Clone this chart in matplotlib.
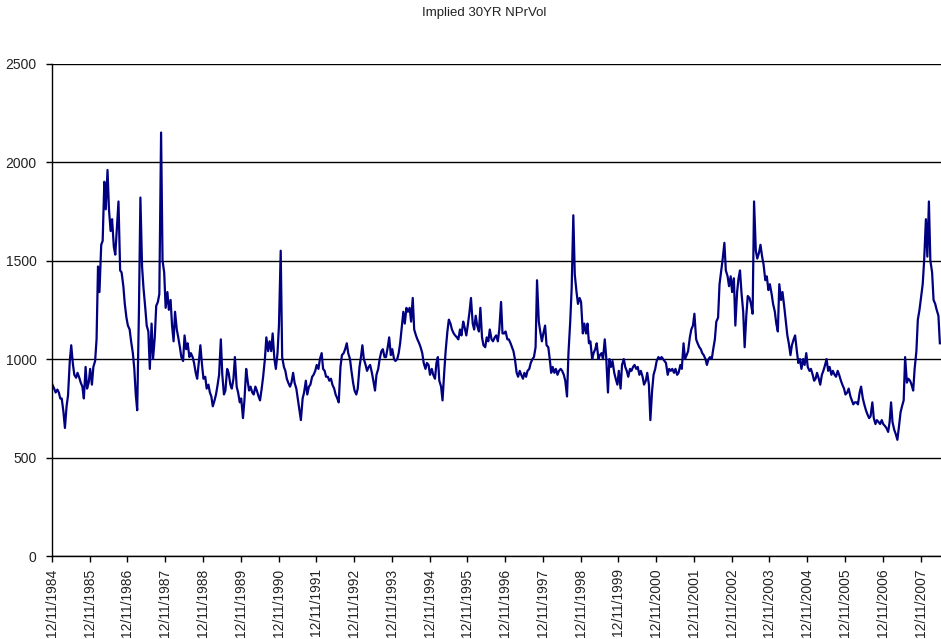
import numpy as np
import pandas as pd
import matplotlib
matplotlib.use("Agg")
import matplotlib.pyplot as plt

plt.rcParams["font.family"] = ["Liberation Sans", "DejaVu Sans"]

title = "Implied 30YR NPrVol"

# semi-monthly readings (1st / 15th of each month), starting 15 Dec 1984
start_date = "1984-12-15"
vol_values = [
    870,
    # 1985
    850, 830, 845, 830, 800, 800, 730, 650, 760, 815, 990, 1070,
    975, 920, 905, 930, 905, 880, 860, 800, 960, 850, 880, 950,
    # 1986
    870, 960, 990, 1100, 1470, 1340, 1580, 1600, 1900, 1760, 1960, 1760,
    1650, 1710, 1570, 1530, 1680, 1800, 1450, 1440, 1370, 1280, 1210, 1170,
    # 1987
    1150, 1090, 1030, 950, 820, 740, 1250, 1820, 1470, 1360, 1260, 1170,
    1140, 950, 1180, 1000, 1110, 1270, 1290, 1330, 2150, 1500, 1440, 1260,
    # 1988
    1340, 1250, 1300, 1170, 1090, 1240, 1150, 1110, 1060, 1010, 990, 1120,
    1050, 1080, 1010, 1030, 1010, 980, 930, 900, 990, 1070, 970, 900,
    # 1989
    910, 850, 870, 830, 810, 760, 790, 820, 870, 920, 1100, 920,
    820, 840, 950, 930, 870, 850, 900, 1010, 860, 830, 780, 800,
    # 1990
    700, 790, 950, 890, 840, 860, 830, 820, 860, 840, 810, 790,
    850, 910, 1000, 1110, 1040, 1090, 1040, 1130, 1000, 950, 1030, 1170,
    # 1991
    1550, 1010, 960, 940, 900, 880, 860, 880, 930, 880, 850, 800,
    740, 690, 800, 830, 890, 820, 860, 870, 910, 920, 940, 970,
    # 1992
    950, 1000, 1030, 950, 940, 910, 910, 890, 900, 870, 850, 820,
    800, 780, 960, 1020, 1030, 1050, 1080, 1030, 1000, 940, 880, 840,
    # 1993
    820, 850, 960, 1010, 1070, 1000, 970, 940, 960, 970, 930, 890,
    840, 920, 950, 1000, 1040, 1050, 1010, 1010, 1060, 1110, 1020, 1050,
    # 1994
    1000, 990, 1000, 1030, 1080, 1150, 1240, 1180, 1260, 1240, 1260, 1190,
    1310, 1150, 1120, 1100, 1080, 1060, 1030, 980, 950, 980, 970, 920,
    # 1995
    950, 920, 900, 980, 1010, 890, 860, 790, 930, 1040, 1140, 1200,
    1180, 1150, 1130, 1120, 1110, 1100, 1150, 1120, 1190, 1160, 1120, 1170,
    # 1996
    1240, 1310, 1180, 1150, 1220, 1170, 1140, 1260, 1110, 1070, 1060, 1110,
    1090, 1150, 1100, 1090, 1110, 1120, 1090, 1150, 1290, 1130, 1130, 1140,
    # 1997
    1100, 1100, 1080, 1060, 1040, 1000, 930, 910, 940, 920, 900, 930,
    910, 940, 950, 980, 1000, 1010, 1060, 1400, 1190, 1140, 1090, 1130,
    # 1998
    1170, 1070, 1060, 1000, 930, 960, 930, 950, 920, 940, 950, 940,
    920, 890, 810, 1030, 1190, 1360, 1730, 1430, 1340, 1280, 1310, 1290,
    # 1999
    1130, 1180, 1130, 1180, 1080, 1090, 1000, 1030, 1050, 1080, 1000, 1020,
    1030, 1000, 1100, 1010, 830, 1000, 960, 990, 930, 900, 870, 940,
    # 2000
    850, 970, 1000, 960, 940, 910, 950, 940, 960, 970, 950, 960,
    920, 940, 910, 870, 890, 930, 870, 690, 840, 920, 950, 990,
    # 2001
    1010, 1000, 1010, 1000, 990, 980, 920, 950, 940, 950, 930, 950,
    920, 930, 970, 950, 1080, 1000, 1020, 1040, 1110, 1150, 1170, 1230,
    # 2002
    1100, 1080, 1060, 1050, 1030, 1020, 1000, 970, 1000, 1010, 1000, 1050,
    1100, 1190, 1210, 1380, 1450, 1510, 1590, 1450, 1420, 1370, 1420, 1340,
    # 2003
    1410, 1170, 1340, 1410, 1450, 1340, 1240, 1060, 1220, 1320, 1310, 1280,
    1230, 1800, 1550, 1510, 1540, 1580, 1520, 1480, 1400, 1420, 1350, 1380,
    # 2004
    1330, 1280, 1240, 1180, 1140, 1380, 1300, 1340, 1270, 1200, 1120, 1080,
    1020, 1070, 1100, 1120, 1040, 980, 1000, 950, 1000, 970, 1030, 960,
    # 2005
    940, 950, 920, 890, 900, 930, 900, 870, 920, 940, 970, 1000,
    940, 960, 920, 940, 920, 910, 940, 920, 890, 870, 850, 820,
    # 2006
    830, 850, 810, 790, 770, 780, 780, 770, 830, 860, 800, 770,
    740, 720, 700, 710, 780, 700, 670, 690, 680, 670, 690, 670,
    # 2007
    660, 650, 630, 680, 780, 680, 640, 620, 590, 650, 730, 760,
    790, 1010, 880, 900, 890, 870, 840, 950, 1040, 1200, 1250, 1310,
    # 2008
    1380, 1500, 1710, 1520, 1800, 1500, 1440, 1300, 1280, 1250, 1220, 1080,
]

tick_years = list(range(1984, 2008))
tick_labels = [f"12/11/{y}" for y in tick_years]

dates = pd.date_range(start_date, periods=len(vol_values), freq="SMS")
tick_dates = pd.to_datetime([f"{y}-12-11" for y in tick_years])

fig = plt.figure(figsize=(9.41, 6.39), dpi=100)
ax = fig.add_axes([52 / 941, 83 / 639, 1 - 52 / 941, 492.4 / 639])

ax.plot(dates, vol_values, color="#000080", lw=1.6)

ax.set_ylim(0, 2500)
ax.set_yticks(np.arange(0, 2501, 500))
ax.set_xlim(pd.Timestamp("1984-12-11"), pd.Timestamp("2008-06-26"))
ax.set_xticks(tick_dates)
ax.set_xticklabels(tick_labels, rotation=90)

ax.yaxis.grid(True, color="black", lw=1.0)
ax.set_axisbelow(True)
for side in ["top", "right"]:
    ax.spines[side].set_visible(False)
for side in ["left", "bottom"]:
    ax.spines[side].set_color("black")
    ax.spines[side].set_linewidth(1.0)

ax.tick_params(axis="both", direction="out", length=4, width=1,
               color="black", labelsize=10, labelcolor="#222222")
ax.tick_params(axis="x", pad=5)
ax.tick_params(axis="y", pad=7)

fig.text(0.515, 1 - 13 / 639, title, ha="center", va="center",
         fontsize=9.5, color="#222222")

fig.savefig("out.png", dpi=100)
